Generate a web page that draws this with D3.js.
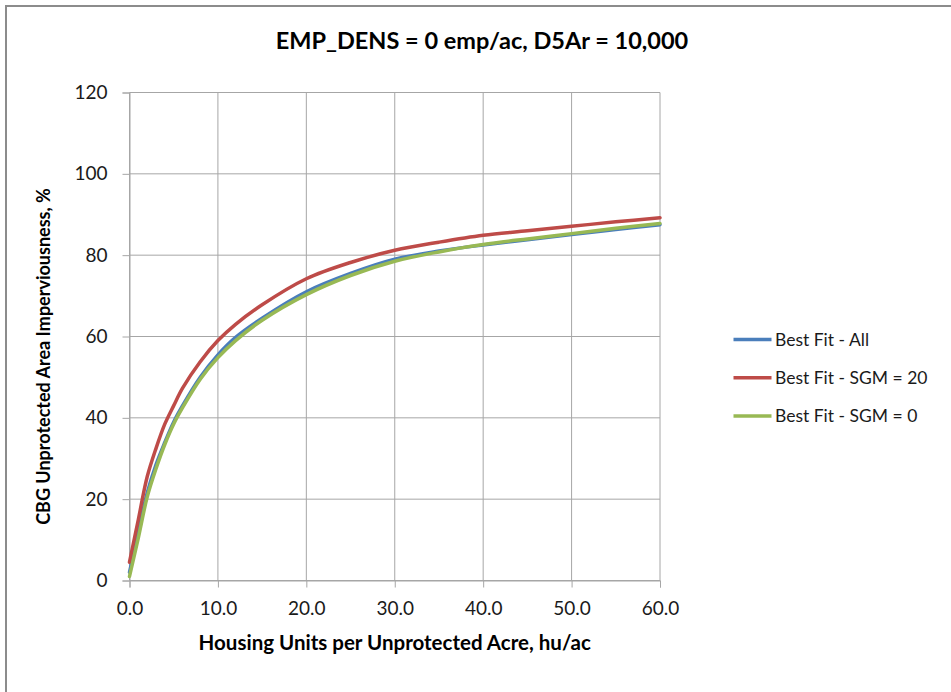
<!DOCTYPE html>
<html>
<head>
<meta charset="utf-8">
<script src="https://cdn.jsdelivr.net/npm/d3@7"></script>
<style>
  html, body { margin: 0; padding: 0; background: #fff; }
  svg { display: block; font-family: Lato, "Open Sans", sans-serif; }
</style>
</head>
<body>
<svg id="chart" width="951" height="692"></svg>
<script>
// Housing density (hu/ac) sample points along each fitted curve
const density = [0, 1, 2, 3, 4, 5, 6, 8, 10, 12, 15, 20, 25, 30, 35, 40, 45, 50, 55, 60];

// Imperviousness (%) for each fit
const fitAll   = [2.0, 12.0, 21.5, 28.5, 34.0, 39.0, 43.0, 50.0, 55.5, 59.8, 64.5, 71.0, 75.5, 79.0, 81.0, 82.5, 83.8, 85.1, 86.3, 87.5];
const fitSgm20 = [4.5, 15.0, 25.5, 32.5, 38.5, 43.0, 47.3, 53.8, 59.0, 63.0, 67.8, 74.2, 78.2, 81.2, 83.2, 84.9, 86.0, 87.1, 88.2, 89.2];
const fitSgm0  = [1.0, 10.5, 20.5, 27.5, 33.5, 38.5, 42.5, 49.5, 54.8, 59.0, 64.0, 70.3, 75.0, 78.5, 80.8, 82.6, 84.0, 85.3, 86.6, 87.8];

const seriesNames  = ["Best Fit - All", "Best Fit - SGM = 20", "Best Fit - SGM = 0"];
const seriesColors = ["#4a7ebb", "#be4b48", "#98b954"];
const seriesValues = [fitAll, fitSgm20, fitSgm0];

const xTicks = [0, 10, 20, 30, 40, 50, 60];
const yTicks = [0, 20, 40, 60, 80, 100, 120];

const titleText = "EMP_DENS = 0 emp/ac, D5Ar = 10,000";
const xTitle = "Housing Units per Unprotected Acre, hu/ac";
const yTitle = "CBG Unprotected Area Imperviousness, %";

const svg = d3.select("#chart");

// outer chart frame
svg.append("rect")
  .attr("x", 6).attr("y", 6)
  .attr("width", 960).attr("height", 700)
  .attr("fill", "none")
  .attr("stroke", "#8c8c8c")
  .attr("stroke-width", 2);

const plot = { left: 129.5, right: 660, top: 92.5, bottom: 580.5 };

const x = d3.scaleLinear().domain([0, 60]).range([plot.left, plot.right]);
const y = d3.scaleLinear().domain([0, 120]).range([plot.bottom, plot.top]);

const gridColor = "#a6a6a6";

// vertical gridlines
svg.append("g")
  .selectAll("line")
  .data(xTicks)
  .join("line")
  .attr("x1", d => x(d)).attr("x2", d => x(d))
  .attr("y1", plot.top).attr("y2", plot.bottom)
  .attr("stroke", gridColor).attr("stroke-width", 1);

// horizontal gridlines
svg.append("g")
  .selectAll("line")
  .data(yTicks)
  .join("line")
  .attr("x1", plot.left).attr("x2", plot.right)
  .attr("y1", d => y(d)).attr("y2", d => y(d))
  .attr("stroke", gridColor).attr("stroke-width", 1);

// axes
const xAxis = d3.axisBottom(x).tickValues(xTicks).tickFormat(d3.format(".1f")).tickSize(7).tickPadding(14);
const yAxis = d3.axisLeft(y).tickValues(yTicks).tickFormat(d3.format("d")).tickSize(7).tickPadding(15);

const gx = svg.append("g").attr("transform", `translate(0,${plot.bottom})`).call(xAxis);
const gy = svg.append("g").attr("transform", `translate(${plot.left},0)`).call(yAxis);

[gx, gy].forEach(g => {
  g.select(".domain").attr("stroke", gridColor);
  g.selectAll(".tick line").attr("stroke", gridColor);
  g.selectAll(".tick text")
    .attr("fill", "#1a1a1a")
    .style("font-size", "19px")
    .style("font-family", "Lato, sans-serif");
});

// curves
const line = d3.line()
  .x((d, i) => x(density[i]))
  .y(d => y(d))
  .curve(d3.curveCatmullRom.alpha(0.5));

svg.append("g")
  .selectAll("path")
  .data(seriesValues)
  .join("path")
  .attr("d", d => line(d))
  .attr("fill", "none")
  .attr("stroke", (d, i) => seriesColors[i])
  .attr("stroke-width", 3.5)
  .attr("stroke-linejoin", "round")
  .attr("stroke-linecap", "round");

// title
svg.append("text")
  .attr("x", 482).attr("y", 48.5)
  .attr("text-anchor", "middle")
  .style("font-size", "23.5px")
  .style("font-weight", "bold")
  .attr("fill", "#000")
  .text(titleText);

// axis titles
svg.append("text")
  .attr("x", (plot.left + plot.right) / 2).attr("y", 650)
  .attr("text-anchor", "middle")
  .style("font-size", "20.5px")
  .style("font-weight", "bold")
  .attr("fill", "#000")
  .text(xTitle);

svg.append("text")
  .attr("transform", `translate(49.5,${(plot.top + plot.bottom) / 2 + 20}) rotate(-90)`)
  .attr("text-anchor", "middle")
  .style("font-size", "18px")
  .style("font-weight", "bold")
  .attr("fill", "#000")
  .text(yTitle);

// legend
const legend = svg.append("g").attr("transform", "translate(733.5,339.5)");
const items = legend.selectAll("g")
  .data(seriesNames)
  .join("g")
  .attr("transform", (d, i) => `translate(0,${i * 38.3})`);
items.append("line")
  .attr("x1", 0).attr("x2", 38)
  .attr("y1", 0).attr("y2", 0)
  .attr("stroke", (d, i) => seriesColors[i])
  .attr("stroke-width", 3.5);
items.append("text")
  .attr("x", 41.5).attr("y", 0).attr("dy", "0.36em")
  .style("font-size", "17.5px")
  .attr("fill", "#1a1a1a")
  .text(d => d);
</script>
</body>
</html>
